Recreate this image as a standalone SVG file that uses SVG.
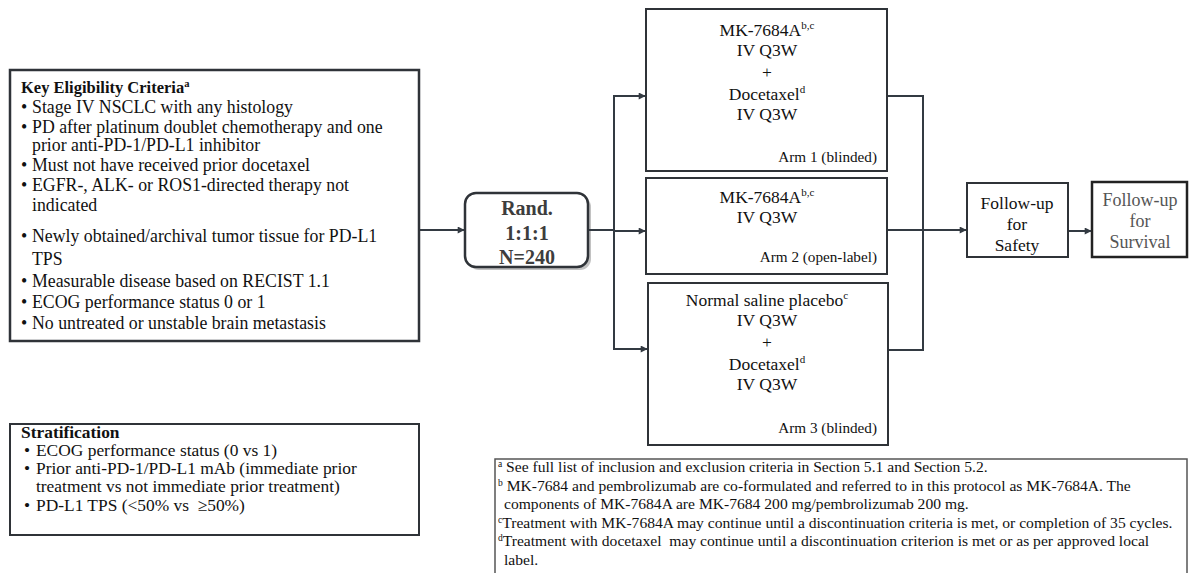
<svg xmlns="http://www.w3.org/2000/svg" width="1190" height="573" viewBox="0 0 1190 573" font-family="'Liberation Serif', 'DejaVu Serif', serif">
<defs>
<marker id="ah" viewBox="0 0 10 10" refX="9" refY="5" markerWidth="8" markerHeight="7" markerUnits="userSpaceOnUse" orient="auto"><path d="M0,0 L10,5 L0,10 z" fill="#333a42"/></marker>
<style>
text{font-family:'Liberation Serif','DejaVu Serif',serif;fill:#111}
.box{fill:#fff;stroke:#2f3338;stroke-width:2}
.crit{font-size:17.8px}
.strat{font-size:17.4px}
.arm{font-size:17.5px;text-anchor:middle}
.armlbl{font-size:15.2px;text-anchor:end}
.fu{font-size:17.5px;text-anchor:middle}
.fs{font-size:18px;text-anchor:middle;fill:#555}
.fn{font-size:15.6px}
.conn{stroke:#333a42;stroke-width:2;fill:none}
.rand{font-size:20px;font-weight:bold;text-anchor:middle;fill:#3d3d3d}
</style>
</defs>
<rect width="1190" height="573" fill="#fff"/>

<g id="eligibility">
<rect x="10" y="70" width="409" height="271" fill="#fff" stroke="#2f3338" stroke-width="2.5"/>
<text x="21" y="93" font-weight="bold" font-size="16.5">Key Eligibility Criteria<tspan font-size="10.5" dy="-6">a</tspan></text>
<text class="crit" x="21" y="113">•</text><text class="crit" x="32" y="113">Stage IV NSCLC with any histology</text>
<text class="crit" x="21" y="133">•</text><text class="crit" x="32" y="133">PD after platinum doublet chemotherapy and one</text>
<text class="crit" x="32" y="151">prior anti-PD-1/PD-L1 inhibitor</text>
<text class="crit" x="21" y="171">•</text><text class="crit" x="32" y="171">Must not have received prior docetaxel</text>
<text class="crit" x="21" y="191">•</text><text class="crit" x="32" y="191">EGFR-, ALK- or ROS1-directed therapy not</text>
<text class="crit" x="32" y="211">indicated</text>
<text class="crit" x="21" y="242">•</text><text class="crit" x="32" y="242">Newly obtained/archival tumor tissue for PD-L1</text>
<text class="crit" x="32" y="265">TPS</text>
<text class="crit" x="21" y="287">•</text><text class="crit" x="32" y="287">Measurable disease based on RECIST 1.1</text>
<text class="crit" x="21" y="308">•</text><text class="crit" x="32" y="308">ECOG performance status 0 or 1</text>
<text class="crit" x="21" y="329">•</text><text class="crit" x="32" y="329">No untreated or unstable brain metastasis</text>
</g>

<g id="stratification">
<rect x="10" y="424" width="409" height="111" fill="#fff" stroke="#2f3338" stroke-width="2"/>
<text class="strat" x="21" y="438" font-weight="bold">Stratification</text>
<text class="strat" x="24" y="456">•</text><text class="strat" x="36" y="456">ECOG performance status (0 vs 1)</text>
<text class="strat" x="24" y="474">•</text><text class="strat" x="36" y="474">Prior anti-PD-1/PD-L1 mAb (immediate prior</text>
<text class="strat" x="36" y="492">treatment vs not immediate prior treatment)</text>
<text class="strat" x="24" y="511">•</text><text class="strat" x="36" y="511" xml:space="preserve">PD-L1 TPS (&lt;50% vs  ≥50%)</text>
</g>

<g id="randomization">
<rect x="468" y="196" width="123" height="74" rx="11" fill="#9a9a9a" opacity="0.6"/>
<rect x="465" y="193" width="123" height="74" rx="11" fill="#fff" stroke="#2f3338" stroke-width="2.5"/>
<text class="rand" x="527" y="215">Rand.</text>
<text class="rand" x="527" y="240">1:1:1</text>
<text class="rand" x="527" y="264">N=240</text>
</g>

<g id="arm1">
<rect class="box" x="646" y="9" width="241" height="162"/>
<text class="arm" x="767" y="36">MK-7684A<tspan font-size="11" dy="-7">b,c</tspan></text>
<text class="arm" x="767" y="56">IV Q3W</text>
<text class="arm" x="767" y="78">+</text>
<text class="arm" x="767" y="100">Docetaxel<tspan font-size="11" dy="-7">d</tspan></text>
<text class="arm" x="767" y="120">IV Q3W</text>
<text class="armlbl" x="877" y="162">Arm 1 (blinded)</text>
</g>

<g id="arm2">
<rect class="box" x="646" y="178" width="241" height="96"/>
<text class="arm" x="767" y="203">MK-7684A<tspan font-size="11" dy="-7">b,c</tspan></text>
<text class="arm" x="767" y="223">IV Q3W</text>
<text class="armlbl" x="877" y="262">Arm 2 (open-label)</text>
</g>

<g id="arm3">
<rect class="box" x="648" y="283" width="240" height="162"/>
<text class="arm" x="767" y="306">Normal saline placebo<tspan font-size="11" dy="-7">c</tspan></text>
<text class="arm" x="767" y="326">IV Q3W</text>
<text class="arm" x="767" y="348">+</text>
<text class="arm" x="767" y="370">Docetaxel<tspan font-size="11" dy="-7">d</tspan></text>
<text class="arm" x="767" y="390">IV Q3W</text>
<text class="armlbl" x="877" y="433">Arm 3 (blinded)</text>
</g>

<g id="followup-safety">
<rect class="box" x="967" y="183" width="101" height="74"/>
<text class="fu" x="1017" y="209">Follow-up</text>
<text class="fu" x="1017" y="230">for</text>
<text class="fu" x="1017" y="251">Safety</text>
</g>

<g id="followup-survival">
<rect x="1092" y="182" width="95" height="75" fill="#fff" stroke="#222" stroke-width="2.5"/>
<text class="fs" x="1140" y="206">Follow-up</text>
<text class="fs" x="1140" y="227">for</text>
<text class="fs" x="1140" y="248">Survival</text>
</g>

<g id="footnotes">
<rect x="495" y="459" width="692" height="120" fill="#fff" stroke="#555" stroke-width="1.5"/>
<text class="fn" x="498" y="472"><tspan font-size="9.5" dy="-5">a</tspan><tspan dy="5"> See full list of inclusion and exclusion criteria in Section 5.1 and Section 5.2.</tspan></text>
<text class="fn" x="498" y="490.5"><tspan font-size="9.5" dy="-5">b</tspan><tspan dy="5"> MK-7684 and pembrolizumab are co-formulated and referred to in this protocol as MK-7684A. The</tspan></text>
<text class="fn" x="504" y="509">components of MK-7684A are MK-7684 200 mg/pembrolizumab 200 mg.</text>
<text class="fn" x="498" y="527.5"><tspan font-size="9.5" dy="-5">c</tspan><tspan dy="5">Treatment with MK-7684A may continue until a discontinuation criteria is met, or completion of 35 cycles.</tspan></text>
<text class="fn" x="498" y="546" xml:space="preserve"><tspan font-size="9.5" dy="-5">d</tspan><tspan dy="5">Treatment with docetaxel  may continue until a discontinuation criterion is met or as per approved local</tspan></text>
<text class="fn" x="504" y="564.5">label.</text>
</g>

<g id="connectors">
<line class="conn" x1="420" y1="230" x2="464" y2="230" marker-end="url(#ah)"/>
<line class="conn" x1="589" y1="230" x2="615" y2="230"/>
<line class="conn" x1="614" y1="95" x2="614" y2="350" stroke-width="2.5"/>
<line class="conn" x1="613" y1="96" x2="645" y2="96" marker-end="url(#ah)"/>
<line class="conn" x1="614" y1="231" x2="645" y2="231" marker-end="url(#ah)"/>
<line class="conn" x1="613" y1="349" x2="647" y2="349" marker-end="url(#ah)"/>
<line class="conn" x1="888" y1="96" x2="924" y2="96"/>
<line class="conn" x1="889" y1="350" x2="924" y2="350" stroke="#111" stroke-width="2.5"/>
<line class="conn" x1="923" y1="95" x2="923" y2="351" stroke-width="2.5"/>
<line class="conn" x1="888" y1="230" x2="966" y2="230" marker-end="url(#ah)"/>
<line class="conn" x1="1069" y1="231" x2="1091" y2="231" marker-end="url(#ah)"/>
</g>
</svg>
